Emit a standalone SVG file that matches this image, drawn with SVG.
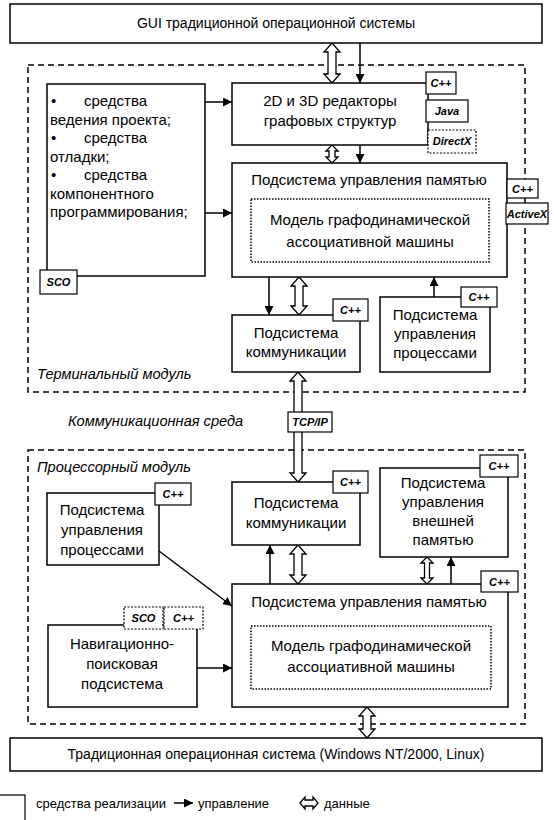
<svg xmlns="http://www.w3.org/2000/svg" width="554" height="820" viewBox="0 0 554 820">
<style>
text{font-family:"Liberation Sans",Arial,sans-serif;font-size:15px;fill:#000}
.c{text-anchor:middle}
.sys{font-size:14px}
.box{fill:#fff;stroke:#000;stroke-width:1.5}
.tag{fill:#fff;stroke:#000;stroke-width:1.2}
.tagd{fill:#fff;stroke:#000;stroke-width:1.2;stroke-dasharray:2 1.5}
.tt{font-size:11px;font-weight:bold;font-style:italic;text-anchor:middle}
.mod{fill:none;stroke:#000;stroke-width:1.5;stroke-dasharray:6 4}
.dot{fill:none;stroke:#000;stroke-width:1.5;stroke-dasharray:1.5 1.5}
.lbl{font-style:italic;font-size:14.6px}
.leg{font-size:13px}
.ctl{fill:none;stroke:#000;stroke-width:1.5;marker-end:url(#ah)}
.dat{fill:#fff;stroke:#000;stroke-width:1.3;stroke-linejoin:miter}
</style>
<defs>
<marker id="ah" viewBox="0 0 10 10" refX="10" refY="5" markerWidth="6" markerHeight="6" markerUnits="strokeWidth" orient="auto"><path d="M0,0 L10,5 L0,10 Z" fill="#000"/></marker>
</defs>

<g id="terminal-module"><rect class="mod" x="28" y="65" width="497" height="327"/><text class="lbl" x="37" y="379">Терминальный модуль</text></g>
<g id="processor-module"><rect class="mod" x="28" y="450" width="497" height="274"/><text class="lbl" x="37" y="472">Процессорный модуль</text></g>

<g id="connectors">
<path class="dat" d="M332,43 L340,52 L336,52 L336,74 L340,74 L332,83 L324,74 L328,74 L328,52 L324,52 Z"/>
<line class="ctl" x1="360" y1="43" x2="360" y2="83"/>
<path class="dat" d="M332,145 L338,151 L335,151 L335,157 L338,157 L332,163 L326,157 L329,157 L329,151 L326,151 Z"/>
<line class="ctl" x1="360" y1="145" x2="360" y2="163"/>
<line class="ctl" x1="205" y1="102" x2="232" y2="102"/>
<line class="ctl" x1="205" y1="213" x2="232" y2="213"/>
<line class="ctl" x1="269" y1="277" x2="269" y2="315"/>
<path class="dat" d="M299,277 L307,286 L303,286 L303,306 L307,306 L299,315 L291,306 L295,306 L295,286 L291,286 Z"/>
<line class="ctl" x1="434" y1="297" x2="434" y2="277"/>
<path class="dat" d="M298,372 L306,381 L302,381 L302,473 L306,473 L298,482 L290,473 L294,473 L294,381 L290,381 Z"/>
<line class="ctl" x1="270" y1="584" x2="270" y2="545"/>
<path class="dat" d="M298,545 L306,554 L302,554 L302,575 L306,575 L298,584 L290,575 L294,575 L294,554 L290,554 Z"/>
<path class="dat" d="M427,557 L433,563 L429.5,563 L429.5,578 L433,578 L427,584 L421,578 L424.5,578 L424.5,563 L421,563 Z"/>
<line class="ctl" x1="451" y1="584" x2="451" y2="557"/>
<line class="ctl" x1="159" y1="551" x2="232" y2="606"/>
<line class="ctl" x1="197" y1="668" x2="232" y2="668"/>
<path class="dat" d="M367,707 L375,716 L371,716 L371,729 L375,729 L367,738 L359,729 L363,729 L363,716 L359,716 Z"/>
</g>

<g id="gui"><rect class="box" x="10" y="4" width="532" height="39"/><text class="c sys" x="276" y="28">GUI традиционной операционной системы</text></g>

<g id="tools">
<rect class="box" x="47" y="84" width="158" height="192"/>
<text x="51" y="106">•</text><text x="84" y="106">средства</text>
<text x="50" y="124.5">ведения проекта;</text>
<text x="51" y="143">•</text><text x="84" y="143">средства</text>
<text x="50" y="161.5">отладки;</text>
<text x="51" y="180">•</text><text x="84" y="180">средства</text>
<text x="50" y="198.5">компонентного</text>
<text x="50" y="217">программирования;</text>
<rect class="tag" x="40" y="270" width="37" height="24"/><text class="tt" x="58.5" y="286">SCO</text>
</g>

<g id="editors">
<rect class="box" x="232" y="83" width="196" height="62"/>
<text class="c" x="330" y="106">2D и 3D редакторы</text>
<text class="c" x="330" y="126">графовых структур</text>
<rect class="tag" x="426" y="72" width="30" height="22"/><text class="tt" x="441" y="87">C++</text>
<rect class="tag" x="426" y="100" width="42" height="22"/><text class="tt" x="447" y="115">Java</text>
<rect class="tagd" x="428" y="130" width="48" height="23"/><text class="tt" x="452" y="145">DirectX</text>
</g>

<g id="memory-terminal">
<rect class="box" x="232" y="163" width="275" height="114"/>
<text class="c" x="369" y="185">Подсистема управления памятью</text>
<rect class="dot" x="251" y="199" width="238" height="63"/>
<text class="c" x="370" y="225">Модель графодинамической</text>
<text class="c" x="370" y="247">ассоциативной машины</text>
<rect class="tag" x="507" y="179" width="31" height="19"/><text class="tt" x="522.5" y="193">C++</text>
<rect class="tag" x="506" y="203" width="42" height="21"/><text class="tt" x="527" y="218">ActiveX</text>
</g>

<g id="comm-terminal">
<rect class="box" x="232" y="315" width="128" height="57"/>
<text class="c" x="296" y="338">Подсистема</text>
<text class="c" x="296" y="357">коммуникации</text>
<rect class="tag" x="333" y="299" width="35" height="22"/><text class="tt" x="350.5" y="314">C++</text>
</g>

<g id="proc-terminal">
<rect class="box" x="380" y="297" width="110" height="75"/>
<text class="c" x="435" y="320">Подсистема</text>
<text class="c" x="435" y="339">управления</text>
<text class="c" x="435" y="358">процессами</text>
<rect class="tag" x="461" y="287" width="36" height="20"/><text class="tt" x="479" y="301">C++</text>
</g>

<g id="comm-medium">
<text class="lbl" x="68" y="426">Коммуникационная среда</text>
<rect class="tag" x="288" y="412" width="44" height="20"/><text class="tt" x="310" y="426">TCP/IP</text>
</g>

<g id="proc-processor">
<rect class="box" x="47" y="493" width="112" height="72"/>
<text class="c" x="102" y="515">Подсистема</text>
<text class="c" x="102" y="535">управления</text>
<text class="c" x="102" y="555">процессами</text>
<rect class="tag" x="155" y="483" width="36" height="22"/><text class="tt" x="173" y="498">C++</text>
</g>

<g id="comm-processor">
<rect class="box" x="232" y="482" width="128" height="63"/>
<text class="c" x="296" y="508">Подсистема</text>
<text class="c" x="296" y="528">коммуникации</text>
<rect class="tag" x="333" y="471" width="35" height="22"/><text class="tt" x="350.5" y="486">C++</text>
</g>

<g id="ext-memory">
<rect class="box" x="380" y="468" width="128" height="89"/>
<text class="c" x="443" y="488">Подсистема</text>
<text class="c" x="443" y="507">управления</text>
<text class="c" x="443" y="526">внешней</text>
<text class="c" x="443" y="545">памятью</text>
<rect class="tag" x="480" y="455" width="38" height="22"/><text class="tt" x="499" y="470">C++</text>
</g>

<g id="memory-processor">
<rect class="box" x="232" y="584" width="276" height="123"/>
<text class="c" x="369" y="607">Подсистема управления памятью</text>
<rect class="dot" x="251" y="626" width="240" height="63"/>
<text class="c" x="371" y="651">Модель графодинамической</text>
<text class="c" x="371" y="672">ассоциативной машины</text>
<rect class="tag" x="481" y="571" width="37" height="21"/><text class="tt" x="499.5" y="586">C++</text>
</g>

<g id="navigation">
<rect class="box" x="48" y="625" width="149" height="82"/>
<text class="c" x="122" y="649">Навигационно-</text>
<text class="c" x="122" y="669">поисковая</text>
<text class="c" x="122" y="689">подсистема</text>
<rect class="tagd" x="124" y="607" width="39" height="22"/><text class="tt" x="143.5" y="622">SCO</text>
<rect class="tagd" x="164" y="607" width="39" height="22"/><text class="tt" x="183.5" y="622">C++</text>
</g>

<g id="os"><rect class="box" x="10" y="738" width="532" height="33"/><text class="c sys" x="276" y="759">Традиционная операционная система (Windows NT/2000, Linux)</text></g>

<g id="legend">
<rect class="tag" x="-3" y="795" width="28" height="30"/>
<text class="leg" x="36" y="808">средства реализации</text>
<line class="ctl" x1="174" y1="803" x2="193" y2="803"/>
<text class="leg" x="198" y="808">управление</text>
<path class="dat" d="M300,803 L305,797 L305,800 L313,800 L313,797 L318,803 L313,809 L313,806 L305,806 L305,809 Z"/>
<text class="leg" x="324" y="808">данные</text>
</g>
</svg>
